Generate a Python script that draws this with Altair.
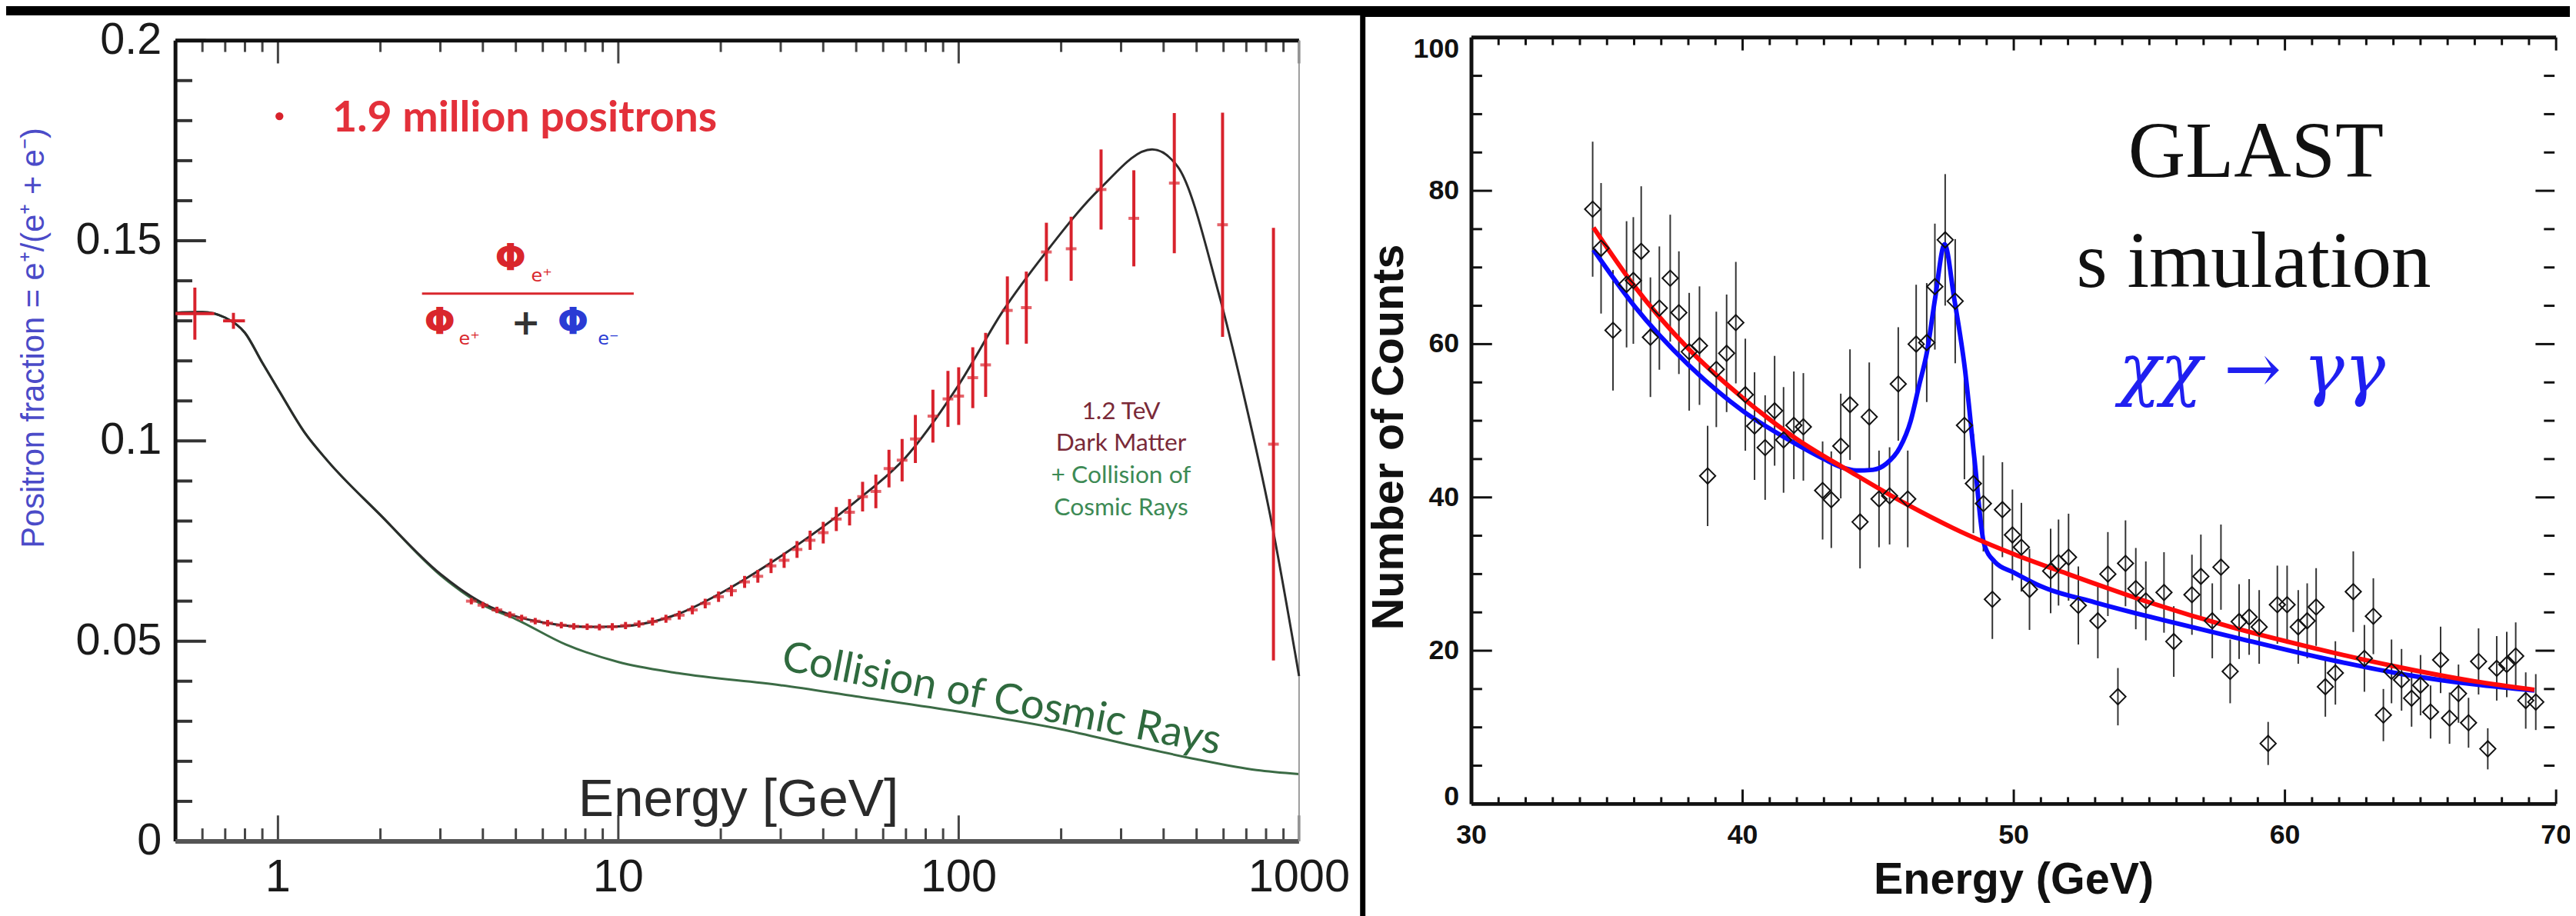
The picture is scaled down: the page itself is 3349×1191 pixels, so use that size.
import altair as alt
import pandas as pd

PW, PH = 3341, 1183          # visible page area (minus the 8px margin)
W, H = PW + 20, PH + 30      # canvas a bit larger than the window

# ---------------- left panel: positron fraction ----------------
cr_E = [0.5, 0.6, 0.7, 0.8, 0.9, 1.0, 1.2, 1.4, 2.0, 3.0, 4.0, 5.0, 7.0, 10, 15, 30, 50, 100, 200, 330, 500, 750, 1000]
cr_F = [0.1320, 0.1322, 0.1308, 0.1270, 0.1195, 0.1130, 0.1020, 0.0950, 0.0815, 0.0665, 0.0590, 0.0555, 0.0492,
        0.0448, 0.0420, 0.0390, 0.0362, 0.0324, 0.0280, 0.0238, 0.0205, 0.0178, 0.0168]
dm_E = [0.5, 0.6, 0.7, 0.8, 0.9, 1.0, 1.2, 1.4, 2.0, 3.0, 4.0, 5.0, 6.0, 8.0, 10, 15, 20, 30, 50, 70, 100, 135,
        180, 260, 370, 440, 580, 690, 820, 1000]
dm_F = [0.1320, 0.1322, 0.1308, 0.1270, 0.1195, 0.1130, 0.1020, 0.0950, 0.0815, 0.0668, 0.0595, 0.0562, 0.0547,
        0.0536, 0.0537, 0.0568, 0.0620, 0.0712, 0.0850, 0.0960, 0.1140, 0.1325, 0.1470, 0.1630, 0.1728, 0.1685,
        0.1370, 0.1110, 0.0820, 0.0413]
pos_E = [3.7, 4.0, 4.4, 4.8, 5.2, 5.7, 6.2, 6.8, 7.4, 8.1,
         8.8, 9.6, 10.5, 11.5, 12.6, 13.8, 15.1, 16.5, 18.0, 19.7,
         21.5, 23.5, 25.7, 28.1, 30.7, 33.5, 36.6, 40.0, 43.7, 47.8,
         52.2, 57.1, 62.4, 68.2, 74.6, 84.0, 93.0, 100.0, 110.0, 120.0,
         139, 158, 181, 214, 262, 327, 430, 596, 841]
pos_F = [0.0600, 0.0590, 0.0578, 0.0566, 0.0558, 0.0550, 0.0545, 0.0540, 0.0537, 0.0536,
         0.0535, 0.0536, 0.0539, 0.0543, 0.0549, 0.0556, 0.0565, 0.0578, 0.0594, 0.0611,
         0.0626, 0.0648, 0.0662, 0.0688, 0.0702, 0.0729, 0.0752, 0.0771, 0.0805, 0.0822,
         0.0861, 0.0874, 0.0931, 0.0952, 0.1005, 0.1062, 0.1105, 0.1112, 0.1158, 0.1190,
         0.1326, 0.1333, 0.1472, 0.1480, 0.1628, 0.1556, 0.1644, 0.1540, 0.0992]
pos_err = [0.0008, 0.0008, 0.0008, 0.0008, 0.0008, 0.0008, 0.0008, 0.0008, 0.0008, 0.0008,
           0.0008, 0.0009, 0.0009, 0.0009, 0.0010, 0.0010, 0.0011, 0.0011, 0.0012, 0.0013,
           0.0014, 0.0015, 0.0016, 0.0018, 0.0019, 0.0021, 0.0024, 0.0027, 0.0030, 0.0033,
           0.0037, 0.0042, 0.0047, 0.0053, 0.0060, 0.0066, 0.0070, 0.0072, 0.0076, 0.0080,
           0.0085, 0.0090, 0.0073, 0.0080, 0.0100, 0.0120, 0.0175, 0.0280, 0.0540]
low_E = [0.57, 0.74]
low_F = [0.1318, 0.1300]
low_err = [0.0065, 0.0020]
low_Elo = [0.50, 0.69]
low_Ehi = [0.65, 0.80]

L_y_major = [0.0, 0.05, 0.1, 0.15, 0.2]
L_y_labels = ['0', '0.05', '0.1', '0.15', '0.2']
L_y_minor = [0.01, 0.02, 0.03, 0.04, 0.06, 0.07, 0.08, 0.09, 0.11, 0.12, 0.13, 0.14, 0.16, 0.17, 0.18, 0.19]
L_x_major = [1, 10, 100, 1000]
L_x_labels = ['1', '10', '100', '1000']
L_x_minor = [0.6, 0.7, 0.8, 0.9, 2, 3, 4, 5, 6, 7, 8, 9, 20, 30, 40, 50, 60, 70, 80, 90,
             200, 300, 400, 500, 600, 700, 800, 900]

# ---------------- right panel: GLAST simulation ----------------
gl_E = [34.47, 34.78, 35.22, 35.72, 35.97, 36.26, 36.60, 36.93, 37.33, 37.65,
        38.03, 38.41, 38.71, 39.03, 39.41, 39.75, 40.10, 40.44, 40.83, 41.18,
        41.51, 41.89, 42.24, 42.95, 43.27, 43.62, 43.96, 44.33, 44.67, 45.03,
        45.42, 45.74, 46.09, 46.40, 46.79, 47.09, 47.47, 47.84, 48.18, 48.51,
        48.88, 49.21, 49.58, 49.95, 50.28, 50.58, 51.36, 51.65, 52.02, 52.38,
        53.10, 53.47, 53.84, 54.12, 54.50, 54.87, 55.54, 55.90, 56.57, 56.90,
        57.32, 57.64, 57.98, 58.31, 58.68, 59.05, 59.38, 59.72, 60.08, 60.49,
        60.82, 61.15, 61.49, 61.86, 62.52, 62.93, 63.26, 63.63, 63.93, 64.30,
        64.67, 65.00, 65.37, 65.74, 66.07, 66.40, 66.77, 67.14, 67.48, 67.81,
        68.18, 68.51, 68.88, 69.25]
gl_N = [77.6, 72.5, 61.8, 67.8, 68.3, 72.1, 60.9, 64.7, 68.6, 64.1,
        59.0, 59.8, 42.8, 56.7, 58.8, 62.8, 53.4, 49.3, 46.5, 51.3,
        47.5, 49.4, 49.2, 40.9, 39.7, 46.7, 52.1, 36.8, 50.5, 39.8,
        40.2, 54.8, 39.8, 60.0, 60.2, 67.5, 73.6, 65.6, 49.4, 41.8,
        39.2, 26.7, 38.4, 35.1, 33.5, 28.0, 30.4, 31.5, 32.2, 25.9,
        23.9, 30.0, 14.0, 31.4, 28.1, 26.5, 27.6, 21.2, 27.3, 29.7,
        23.9, 30.9, 17.3, 23.8, 24.4, 23.1, 7.9, 26.0, 26.0, 23.1,
        23.9, 25.7, 15.3, 17.1, 27.7, 19.0, 24.5, 11.6, 17.3, 16.2,
        13.8, 15.5, 12.0, 18.8, 11.2, 14.4, 10.6, 18.6, 7.2, 17.7,
        18.2, 19.3, 13.5, 13.3]
bg_E = [34.5, 36, 38, 40, 42, 44, 46, 48, 50, 52, 55, 58, 61, 64, 67, 69.2]
bg_N = [75.2, 67.6, 59.4, 53.0, 47.6, 43.3, 39.2, 35.6, 32.6, 30.0, 26.3, 23.1, 20.4, 18.0, 16.0, 14.9]
fit_E = [34.5, 36, 38, 40, 42, 43, 43.6, 44.2, 44.8, 45.3, 45.8, 46.2, 46.5, 46.8, 47.1, 47.45, 47.8, 48.2,
         48.55, 48.9, 49.3, 50, 51, 53, 55.5, 58.3, 61.3, 64.4, 67, 69.2]
fit_N = [72.3, 65.0, 57.3, 51.3, 46.9, 45.0, 44.0, 43.5, 43.6, 44.4, 46.5, 50.0, 54.5, 59.0, 66.0, 73.0, 66.0,
         56.7, 45.0, 34.0, 31.6, 30.2, 28.4, 26.3, 24.0, 21.6, 19.1, 16.9, 15.6, 14.8]

R_y_major = [0, 20, 40, 60, 80, 100]
R_y_mid = [20, 40, 60, 80]
R_y_mid_labels = ['20', '40', '60', '80']
R_y_minor = [5, 10, 15, 25, 30, 35, 45, 50, 55, 65, 70, 75, 85, 90, 95]
R_x_major = [30, 40, 50, 60, 70]
R_x_labels = ['30', '40', '50', '60', '70']
R_x_minor = [31, 32, 33, 34, 35, 36, 37, 38, 39, 41, 42, 43, 44, 45, 46, 47, 48, 49,
             51, 52, 53, 54, 55, 56, 57, 58, 59, 61, 62, 63, 64, 65, 66, 67, 68, 69]

# ---------------- scales ----------------
xsL = alt.Scale(type='log', domain=[0.5, 1000], range=[222, 1695], nice=False)
ysL = alt.Scale(domain=[0, 0.2], range=[1090, 40], nice=False, zero=False)
xsR = alt.Scale(domain=[30, 70], range=[1921, 3343], nice=False, zero=False)
ysR = alt.Scale(domain=[0, 100], range=[1041, 36], nice=False, zero=False)

SANS = 'Liberation Sans'
one = pd.DataFrame({'k': [0]})


def xl(f='E'):
    return alt.X(f + ':Q', scale=xsL, axis=None)


def yl(f='F'):
    return alt.Y(f + ':Q', scale=ysL, axis=None)


def xr(f='E'):
    return alt.X(f + ':Q', scale=xsR, axis=None)


def yr(f='N'):
    return alt.Y(f + ':Q', scale=ysR, axis=None)


def tk(vals):
    return pd.DataFrame({'v': vals})


def lab(vals, labels):
    return pd.DataFrame({'v': vals, 't': labels})


def title(text, x, y, **kw):
    return alt.Chart(one).mark_text(text=text, align='center', baseline='middle', **kw).encode(
        x=alt.value(x), y=alt.value(y))


# ---------------- panels ----------------
panelL = alt.Chart(one).mark_rect(color='#ffffff').encode(
    x=alt.value(0), x2=alt.value(1775), y=alt.value(7), y2=alt.value(H))
panelR = alt.Chart(one).mark_rect(color='#ffffff').encode(
    x=alt.value(1782), x2=alt.value(W), y=alt.value(9), y2=alt.value(H))

# ---------------- left chart ----------------
cr_df = pd.DataFrame({'E': cr_E, 'F': cr_F})
dm_df = pd.DataFrame({'E': dm_E, 'F': dm_F})
pos_df = pd.DataFrame({'E': pos_E, 'F': pos_F, 'err': pos_err})
low_df = pd.DataFrame({'E': low_E, 'F': low_F, 'err': low_err, 'Elo': low_Elo, 'Ehi': low_Ehi})

green = alt.Chart(cr_df).mark_line(color='#3b6b45', strokeWidth=3, interpolate='monotone').encode(
    x=xl(), y=yl())
black = alt.Chart(dm_df).mark_line(color='#2b2b2b', strokeWidth=3, interpolate='monotone').encode(
    x=xl(), y=yl())

RED = '#d8222c'
pos_err_rule = alt.Chart(pos_df).transform_calculate(
    lo='datum.F - datum.err', hi='datum.F + datum.err').mark_rule(color=RED, strokeWidth=4).encode(
    x=xl(), y=yl('lo'), y2='hi:Q')
pos_tick = alt.Chart(pos_df).mark_tick(color=RED, orient='horizontal', size=14, thickness=4).encode(
    x=xl(), y=yl())
low_v = alt.Chart(low_df).transform_calculate(
    lo='datum.F - datum.err', hi='datum.F + datum.err').mark_rule(color=RED, strokeWidth=4).encode(
    x=xl(), y=yl('lo'), y2='hi:Q')
low_h = alt.Chart(low_df).mark_rule(color=RED, strokeWidth=4).encode(x=xl('Elo'), x2='Ehi:Q', y=yl())

lt = [
    alt.Chart(tk(L_y_major)).mark_rule(color='#333333', strokeWidth=4).encode(
        y=yl('v'), x=alt.value(222), x2=alt.value(262)),
    alt.Chart(tk(L_y_minor)).mark_rule(color='#333333', strokeWidth=4).encode(
        y=yl('v'), x=alt.value(222), x2=alt.value(244)),
    alt.Chart(tk(L_x_major)).mark_rule(color='#444444', strokeWidth=3).encode(
        x=xl('v'), y=alt.value(1090), y2=alt.value(1056)),
    alt.Chart(tk(L_x_minor)).mark_rule(color='#444444', strokeWidth=3).encode(
        x=xl('v'), y=alt.value(1090), y2=alt.value(1073)),
    alt.Chart(tk(L_x_major)).mark_rule(color='#444444', strokeWidth=3).encode(
        x=xl('v'), y=alt.value(40), y2=alt.value(70)),
    alt.Chart(tk(L_x_minor)).mark_rule(color='#444444', strokeWidth=3).encode(
        x=xl('v'), y=alt.value(40), y2=alt.value(55)),
]
frameL = [
    alt.Chart(pd.DataFrame({'x': [0.5], 'x2': [1000], 'y': [0.2]})).mark_rule(color='#111111', strokeWidth=5)
    .encode(x=xl('x'), x2='x2:Q', y=yl('y')),
    alt.Chart(pd.DataFrame({'x': [0.5], 'y': [0.0], 'y2': [0.2]})).mark_rule(color='#111111', strokeWidth=5)
    .encode(x=xl('x'), y=yl('y'), y2='y2:Q'),
    alt.Chart(pd.DataFrame({'x': [0.5], 'x2': [1000], 'y': [0.0]})).mark_rule(color='#555555', strokeWidth=6)
    .encode(x=xl('x'), x2='x2:Q', y=yl('y')),
    alt.Chart(pd.DataFrame({'x': [1000], 'y': [0.0], 'y2': [0.2]})).mark_rule(color='#9a9a9a', strokeWidth=2)
    .encode(x=xl('x'), y=yl('y'), y2='y2:Q'),
]
labels_L = [
    alt.Chart(lab(L_y_major, L_y_labels)).mark_text(align='right', baseline='middle', font=SANS, fontSize=58,
                                                    color='#1a1a1a').encode(
        y=yl('v'), x=alt.value(204), text='t:N'),
    alt.Chart(lab(L_x_major, L_x_labels)).mark_text(align='center', baseline='middle', font=SANS, fontSize=60,
                                                    color='#1a1a1a').encode(
        x=xl('v'), y=alt.value(1138), text='t:N'),
    title('Positron fraction = e⁺/(e⁺ + e⁻)', 36, 430, angle=270, font=SANS, fontSize=42, color='#4b4bc8'),
    title('Energy [GeV]', 960, 1036, font=SANS, fontSize=70, color='#2a2a2a'),
]


def txtL(E, F, text, **kw):
    return alt.Chart(pd.DataFrame({'E': E, 'F': F})).mark_text(text=text, **kw).encode(x=xl(), y=yl())


legend_dot = alt.Chart(pd.DataFrame({'E': [1.01], 'F': [0.1811]})).mark_point(
    shape='circle', filled=True, color=RED, size=110, opacity=1).encode(x=xl(), y=yl())
legend_txt = txtL([1.445], [0.1806], '1.9 million positrons', align='left', baseline='middle', font='Lato',
                  fontWeight='bold', fontSize=56, color='#e3303a')
phi_red = txtL([4.82, 2.99], [0.1453, 0.1295], 'Φ', align='center', baseline='middle', font='DejaVu Sans',
               fontWeight='bold', fontSize=48, color='#d9262c')
sub_red = txtL([5.95, 3.65], [0.1412, 0.1255], 'e⁺', align='center', baseline='middle', font='DejaVu Sans',
               fontSize=24, color='#d9262c')
plus = txtL([5.35], [0.1293], '+', align='center', baseline='middle', font='DejaVu Sans', fontWeight='bold',
            fontSize=46, color='#333333')
phi_blue = txtL([7.36], [0.1295], 'Φ', align='center', baseline='middle', font='DejaVu Sans',
                fontWeight='bold', fontSize=48, color='#2a3bd4')
sub_blue = txtL([9.35], [0.1255], 'e⁻', align='center', baseline='middle', font='DejaVu Sans',
                fontSize=24, color='#2a3bd4')
frac_bar = alt.Chart(pd.DataFrame({'x': [2.65], 'x2': [11.1], 'y': [0.1368]})).mark_rule(
    color='#d9262c', strokeWidth=3).encode(x=xl('x'), x2='x2:Q', y=yl('y'))
DMT = dict(align='center', baseline='middle', font='Lato', fontSize=32)
dm1 = txtL([300], [0.1074], '1.2 TeV', color='#7a2a38', **DMT)
dm2 = txtL([300], [0.0994], 'Dark Matter', color='#7a2a38', **DMT)
dm3 = txtL([300], [0.0914], '+ Collision of', color='#3d8a55', **DMT)
dm4 = txtL([300], [0.0834], 'Cosmic Rays', color='#3d8a55', **DMT)
cr_lab = txtL([133.6], [0.0355], 'Collision of Cosmic Rays', align='center', baseline='middle', font='Lato',
              fontSize=55, color='#2f6a3e', angle=11)

left = alt.layer(green, *lt, *frameL, black, low_v, low_h, pos_err_rule, pos_tick, legend_dot, legend_txt,
                 frac_bar, phi_red, sub_red, plus, phi_blue, sub_blue, dm1, dm2, dm3, dm4, cr_lab, *labels_L)

# ---------------- right chart ----------------
gl_df = pd.DataFrame({'E': gl_E, 'N': gl_N})
gl_err = alt.Chart(gl_df).transform_calculate(
    lo='datum.N - sqrt(datum.N)', hi='datum.N + sqrt(datum.N)').mark_rule(
    color='#333333', strokeWidth=2).encode(x=xr(), y=yr('lo'), y2='hi:Q')
gl_pts = alt.Chart(gl_df).mark_point(shape='diamond', filled=False, color='#111111', size=420,
                                     strokeWidth=2, opacity=1).encode(x=xr(), y=yr())
blue_fit = alt.Chart(pd.DataFrame({'E': fit_E, 'N': fit_N})).mark_line(
    color='#0a0aff', strokeWidth=6, interpolate='monotone').encode(x=xr(), y=yr())
red_fit = alt.Chart(pd.DataFrame({'E': bg_E, 'N': bg_N})).mark_line(
    color='#ff0a0a', strokeWidth=6, interpolate='monotone').encode(x=xr(), y=yr())

rt = [
    alt.Chart(tk(R_y_major)).mark_rule(color='#111111', strokeWidth=3).encode(
        y=yr('v'), x=alt.value(1921), x2=alt.value(1948)),
    alt.Chart(tk(R_y_minor)).mark_rule(color='#111111', strokeWidth=3).encode(
        y=yr('v'), x=alt.value(1921), x2=alt.value(1935)),
    alt.Chart(tk(R_y_major)).mark_rule(color='#111111', strokeWidth=3).encode(
        y=yr('v'), x=alt.value(PW), x2=alt.value(PW - 25)),
    alt.Chart(tk(R_y_minor)).mark_rule(color='#111111', strokeWidth=3).encode(
        y=yr('v'), x=alt.value(PW), x2=alt.value(PW - 14)),
    alt.Chart(tk(R_x_major)).mark_rule(color='#111111', strokeWidth=3).encode(
        x=xr('v'), y=alt.value(1041), y2=alt.value(1022)),
    alt.Chart(tk(R_x_minor)).mark_rule(color='#111111', strokeWidth=3).encode(
        x=xr('v'), y=alt.value(1041), y2=alt.value(1032)),
    alt.Chart(tk(R_x_major)).mark_rule(color='#111111', strokeWidth=3).encode(
        x=xr('v'), y=alt.value(36), y2=alt.value(53)),
    alt.Chart(tk(R_x_minor)).mark_rule(color='#111111', strokeWidth=3).encode(
        x=xr('v'), y=alt.value(36), y2=alt.value(46)),
]
frameR = [
    alt.Chart(pd.DataFrame({'x': [30], 'x2': [70], 'y': [100]})).mark_rule(color='#111111', strokeWidth=5)
    .encode(x=xr('x'), x2='x2:Q', y=yr('y')),
    alt.Chart(pd.DataFrame({'x': [30], 'x2': [70], 'y': [0]})).mark_rule(color='#111111', strokeWidth=5)
    .encode(x=xr('x'), x2='x2:Q', y=yr('y')),
    alt.Chart(pd.DataFrame({'x': [30], 'y': [0], 'y2': [100]})).mark_rule(color='#111111', strokeWidth=5)
    .encode(x=xr('x'), y=yr('y'), y2='y2:Q'),
]
RLAB = dict(font=SANS, fontSize=36, fontWeight='bold', color='#111111')
labels_R = [
    alt.Chart(lab(R_y_mid, R_y_mid_labels)).mark_text(align='right', baseline='middle', **RLAB).encode(
        y=yr('v'), x=alt.value(1905), text='t:N'),
    alt.Chart(lab([0], ['0'])).mark_text(align='right', baseline='middle', dy=-9, **RLAB).encode(
        y=yr('v'), x=alt.value(1905), text='t:N'),
    alt.Chart(lab([100], ['100'])).mark_text(align='right', baseline='middle', dy=15, **RLAB).encode(
        y=yr('v'), x=alt.value(1905), text='t:N'),
    alt.Chart(lab(R_x_major, R_x_labels)).mark_text(align='center', baseline='middle', **RLAB).encode(
        x=xr('v'), y=alt.value(1082), text='t:N'),
    title('Energy (GeV)', 2632, 1142, font=SANS, fontSize=58, fontWeight='bold', color='#111111'),
    title('Number of Counts', 1814, 560, angle=270, font=SANS, fontSize=58, fontWeight='bold', color='#111111'),
]


def txtR(E, N, text, **kw):
    return alt.Chart(pd.DataFrame({'E': E, 'N': N})).mark_text(text=text, **kw).encode(x=xr(), y=yr())


glast = txtR([58.93], [81.8], 'GLAST', align='center', baseline='alphabetic', font='Liberation Serif',
             fontSize=104, color='#111111')
simu = txtR([58.85], [67.5], 's imulation', align='center', baseline='alphabetic', font='Liberation Serif',
            fontSize=104, color='#111111')
chi = txtR([58.79], [53.7], 'χχ → γγ', align='center', baseline='alphabetic', font='DejaVu Serif',
           fontStyle='italic', fontSize=90, color='#1f1ff0')

right = alt.layer(*rt, *frameR, gl_err, blue_fit, red_fit, gl_pts, glast, simu, chi, *labels_R)

chart = alt.layer(panelL, panelR, left, right).resolve_scale(
    x='independent', y='independent'
).properties(
    width=W, height=H, background='#000000', padding=0,
    autosize=alt.AutoSizeParams(type='none')
).configure_view(stroke=None)

chart.save("out.html", embed_options={"renderer": "svg", "actions": False})
